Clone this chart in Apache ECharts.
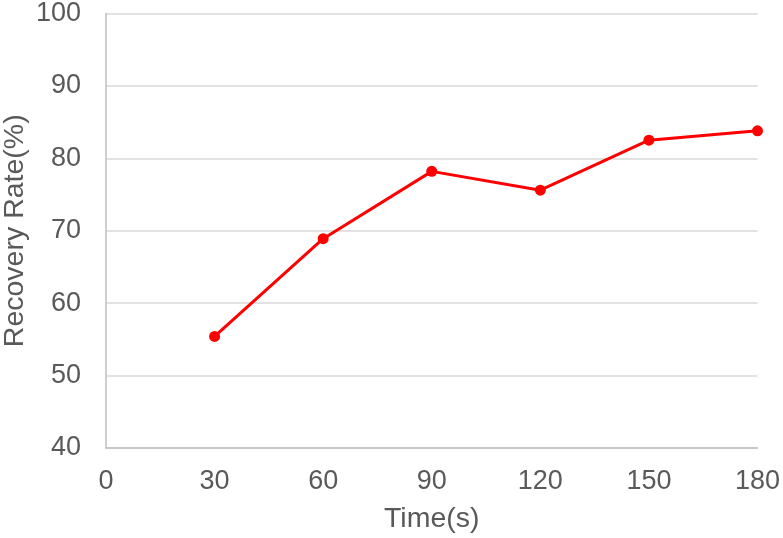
<!DOCTYPE html>
<html>
<head>
<meta charset="utf-8">
<script src="https://cdn.jsdelivr.net/npm/echarts@6/dist/echarts.min.js"></script>
<style>
  html, body { margin: 0; padding: 0; background: #fff; }
  #chart { width: 783px; height: 538px; }
</style>
</head>
<body>
<div id="chart"></div>
<script>
const timeSeconds = [30, 60, 90, 120, 150, 180]
const recoveryRate = [55.4, 68.9, 78.2, 75.6, 82.5, 83.8]

const xTicks = { min: 0, max: 180, interval: 30 }
const yTicks = { min: 40, max: 100, interval: 10 }

const chart = echarts.init(document.getElementById('chart'), null, { renderer: 'canvas' })

const labelStyle = {
  color: '#595959',
  fontSize: 27,
  fontFamily: '"Liberation Sans", Arial, sans-serif'
}
const nameStyle = { ...labelStyle, fontSize: 28.5 }

chart.setOption({
  animation: false,
  grid: { left: 106, right: 25.5, top: 13.5, bottom: 90, outerBoundsMode: 'none', containLabel: false },
  xAxis: {
    type: 'value',
    min: xTicks.min,
    max: xTicks.max,
    interval: xTicks.interval,
    name: 'Time(s)',
    nameLocation: 'middle',
    nameGap: 57,
    nameMoveOverlap: false,
    nameTextStyle: nameStyle,
    axisLine: { show: true, lineStyle: { color: '#bfbfbf', width: 1.5 } },
    axisTick: { show: false },
    splitLine: { show: false },
    axisLabel: { ...labelStyle, margin: 20 }
  },
  yAxis: {
    type: 'value',
    min: yTicks.min,
    max: yTicks.max,
    interval: yTicks.interval,
    name: 'Recovery Rate(%)',
    nameLocation: 'middle',
    nameGap: 76,
    nameMoveOverlap: false,
    nameTextStyle: nameStyle,
    axisLine: { show: true, lineStyle: { color: '#bfbfbf', width: 1.5 } },
    axisTick: { show: false },
    splitLine: { show: true, lineStyle: { color: '#d9d9d9', width: 1.5 } },
    axisLabel: { ...labelStyle, margin: 25 }
  },
  series: [
    {
      type: 'line',
      data: timeSeconds.map((t, i) => [t, recoveryRate[i]]),
      symbol: 'circle',
      symbolSize: 11,
      lineStyle: { color: '#ff0000', width: 3 },
      itemStyle: { color: '#ff0000' }
    }
  ]
})
</script>
</body>
</html>
